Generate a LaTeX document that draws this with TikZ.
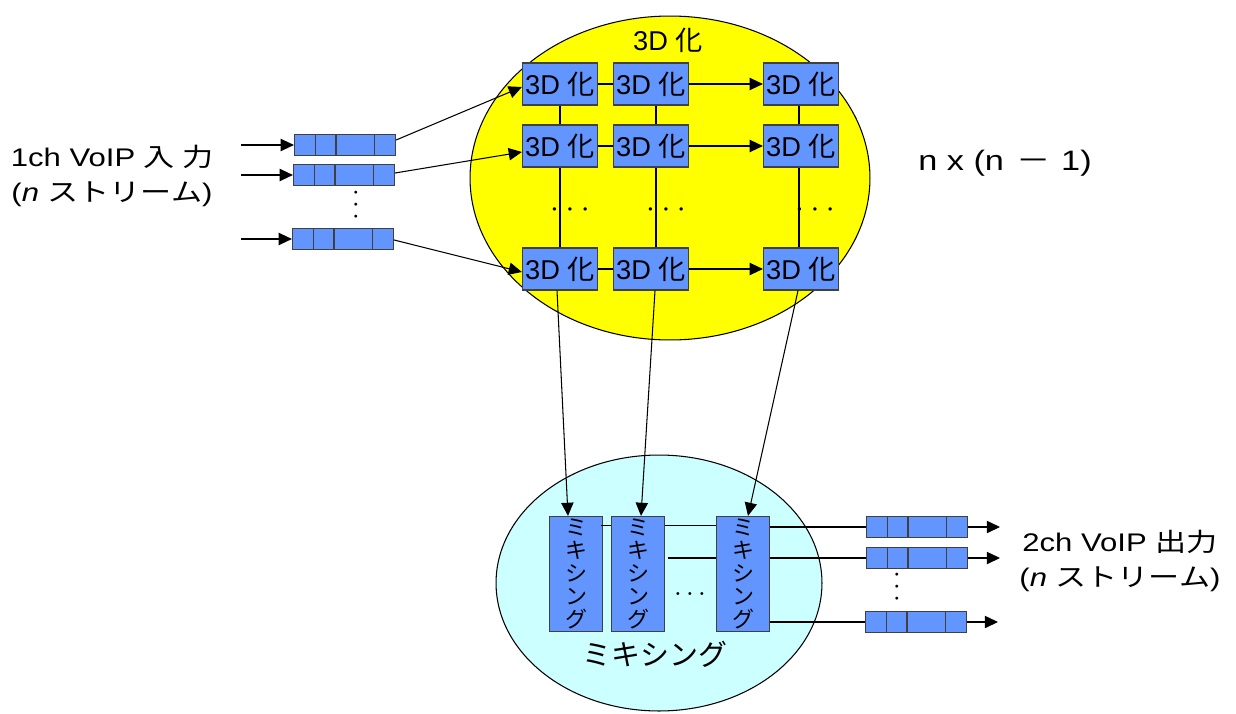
\documentclass[tikz,border=0pt]{standalone}
\usepackage{fontspec}
\setmainfont{Liberation Sans}
\newfontfamily\jp{Noto Sans CJK JP}
\newfontfamily\lsw[FakeStretch=1.22]{Liberation Sans}
\newfontfamily\jpw[FakeStretch=1.22]{Noto Sans CJK JP}
\usetikzlibrary{shapes.geometric,arrows.meta,calc}
\definecolor{qblue}{RGB}{99,149,255}
\definecolor{ylw}{RGB}{255,255,0}
\definecolor{lcyan}{RGB}{204,255,255}
\newcommand{\hdots}[1]{•\hspace{#1}•\hspace{#1}•}
\begin{document}
\begin{tikzpicture}[x=0.02cm,y=-0.02cm,
  every node/.style={inner sep=0pt},
  ln/.style={line width=0.6pt},
  arr/.style={ln,-{Triangle[length=7.5pt,width=7pt]}},
  dbox/.style={draw=black!75,line width=0.7pt,fill=qblue,minimum width=1.5cm,minimum height=0.84cm,font=\fontsize{15.5}{15.5}\selectfont},
  mbox/.style={draw=black!75,line width=0.7pt,fill=qblue,minimum width=1.06cm,minimum height=2.3cm,align=center,font=\jp\fontsize{12.5}{13}\selectfont},
  queue/.style={draw=black!75,line width=0.7pt,fill=qblue,minimum width=2.02cm,minimum height=0.43cm,
    path picture={\foreach \f in {0.21,0.41,0.79}{\draw[line width=0.7pt,black!75] ($(path picture bounding box.south west)!\f!(path picture bounding box.south east)$) -- ($(path picture bounding box.north west)!\f!(path picture bounding box.north east)$);}}},
  lbl/.style={font=\lsw\fontsize{14.5}{19.5}\selectfont,align=center},
  dots/.style={font=\fontsize{7}{7}\selectfont},
  sdots/.style={font=\fontsize{6}{6}\selectfont}
]
\useasboundingbox (0,0) rectangle (1236,713);

% ellipses
\node[ellipse,draw,line width=0.6pt,fill=ylw,minimum width=8cm,minimum height=6.48cm] (e3d) at (670,178) {};
\node[ellipse,draw,line width=0.6pt,fill=lcyan,minimum width=6.52cm,minimum height=5.12cm] (emix) at (659,583) {};

\node[font=\fontsize{15.5}{15.5}\selectfont] (t3d) at (668,40) {3D {\jp 化}};
\node[font=\jp\fontsize{16.5}{16.5}\selectfont] (tmix) at (655,654) {ミキシング};

% 3D boxes
\foreach \r/\y in {1/84,2/146,3/269}{
  \node[dbox] (b\r1) at (560,\y) {3D {\jp 化}};
  \node[dbox] (b\r2) at (651,\y) {3D {\jp 化}};
  \node[dbox] (b\r3) at (801,\y) {3D {\jp 化}};
  \draw[ln] (b\r1.east) -- (b\r2.west);
  \draw[arr] (b\r2.east) -- (b\r3.west);
}
\foreach \c/\dx in {1/0,2/5,3/-2}{
  \draw[ln] ($(b1\c.south)+(\dx,0)$) -- ($(b2\c.north)+(\dx,0)$);
  \draw[ln] ($(b2\c.south)+(\dx,0)$) -- ($(b3\c.north)+(\dx,0)$);
}
\node[dots] (d1) at (570,211) {\hdots{6.3pt}};
\node[dots] (d2) at (666,211) {\hdots{6.3pt}};
\node[dots] (d3) at (815,211) {\hdots{6.3pt}};

% input queues
\node[queue] (q1) at (345,145) {};
\node[queue] (q2) at (344,175) {};
\node[queue] (q3) at (343,239) {};
\coordinate (i1) at (241,145);
\coordinate (i2) at (241,175);
\coordinate (i3) at (241,239);
\draw[arr] (i1) -- (q1.west);
\draw[arr] (i2) -- (q2.west);
\draw[arr] (i3) -- (q3.west);
\node[sdots,rotate=90] (qd) at (357,205) {\hdots{4.7pt}};
\draw[arr] ($(q1.east)+(0,-5)$) -- ($(b11.west)+(0,3)$);
\draw[arr] ($(q2.east)+(0,-2)$) -- ($(b21.west)+(0,6)$);
\draw[arr] ($(q3.east)+(0,1)$) -- ($(b31.west)+(0,3)$);

\node[lbl] (inlbl) at (112,176) {1ch VoIP {\jpw 入 力}\\({\itshape n} {\jpw ストリーム})};
\node[font=\lsw\fontsize{16}{16}\selectfont] (nn) at (1005,163) {n x (n\hspace{7pt}{\jpw －}\hspace{6pt}1)};

% mixing boxes
\node[mbox] (m1) at (576,574) {ミ\\キ\\シ\\ン\\グ};
\node[mbox] (m2) at (638,574) {ミ\\キ\\シ\\ン\\グ};
\node[mbox] (m3) at (743,574) {ミ\\キ\\シ\\ン\\グ};
\node[sdots] (md) at (690,595) {\hdots{4.7pt}};

\draw[arr] ($(b31.south)+(-3,0)$) -- ($(m1.north)+(-8,0)$);
\draw[arr] ($(b32.south)+(4,0)$) -- ($(m2.north)+(3,0)$);
\draw[arr] ($(b33.south)+(-3,0)$) -- ($(m3.north)+(5,0)$);

% output queues
\node[queue] (o1) at (917,527) {};
\node[queue] (o2) at (917,558) {};
\node[queue] (o3) at (916,622) {};
\node[sdots,rotate=90] (od) at (898,587) {\hdots{4.7pt}};
\coordinate (x1) at (1000,527);
\coordinate (x2) at (1000,558);
\coordinate (x3) at (998,622);
\draw[arr] (o1.east) -- (x1);
\draw[arr] (o2.east) -- (x2);
\draw[arr] (o3.east) -- (x3);

\draw[ln] ($(m1.north east)+(-2,10)$) -- ($(m2.north west)+(0,10)$);
\draw[ln] ($(m2.north east)+(0,10)$) -- ($(m3.north west)+(0,10)$);
\draw[ln] (o1.west -| m3.east) -- (o1.west);
\coordinate (l2) at (668,558);
\draw[ln] (l2) -- (l2 -| m3.west);
\draw[ln] (o2.west -| m3.east) -- (o2.west);
\draw[ln] (o3.west -| m3.east) -- (o3.west);

\node[lbl] (outlbl) at (1120,561) {2ch VoIP {\jpw 出力}\\({\itshape n} {\jpw ストリーム})};
\end{tikzpicture}
\end{document}
